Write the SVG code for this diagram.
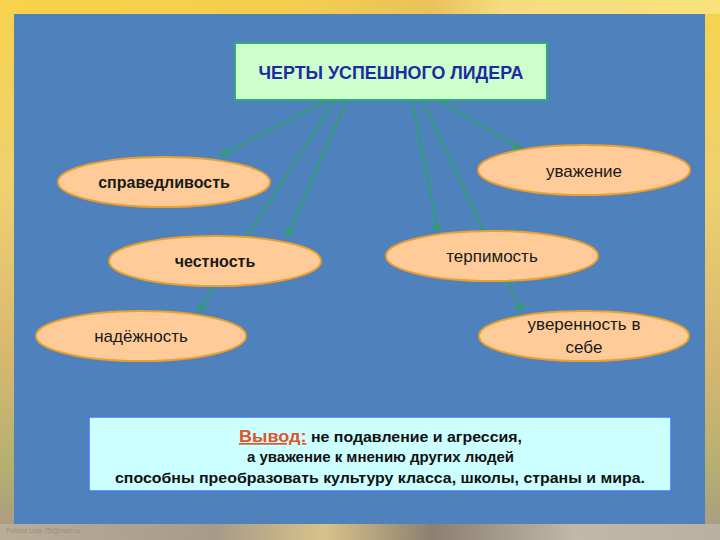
<svg xmlns="http://www.w3.org/2000/svg" width="720" height="540" viewBox="0 0 720 540">
<defs>
<linearGradient id="bgv" x1="0" y1="0" x2="0" y2="1">
<stop offset="0" stop-color="#F6D34C"/>
<stop offset="0.35" stop-color="#EED070"/>
<stop offset="0.65" stop-color="#D9B870"/>
<stop offset="0.85" stop-color="#B8B070"/>
<stop offset="1" stop-color="#A89A85"/>
</linearGradient>
<linearGradient id="topbar" x1="0" y1="0" x2="1" y2="0">
<stop offset="0" stop-color="#F7D24A"/>
<stop offset="0.4" stop-color="#F4CF4E"/>
<stop offset="0.6" stop-color="#E9C25A"/>
<stop offset="0.7" stop-color="#F6DC80"/>
<stop offset="1" stop-color="#FAE27A"/>
</linearGradient>
<linearGradient id="botbar" x1="0" y1="0" x2="1" y2="0">
<stop offset="0" stop-color="#B8AE98"/>
<stop offset="0.3" stop-color="#A89A88"/>
<stop offset="0.45" stop-color="#D8C28A"/>
<stop offset="0.6" stop-color="#8C8070"/>
<stop offset="0.8" stop-color="#C0B8A8"/>
<stop offset="1" stop-color="#B8B0A0"/>
</linearGradient>
<marker id="ah" viewBox="0 0 10 10" refX="9" refY="5" markerWidth="4.5" markerHeight="4.5" orient="auto">
<path d="M0,0 L10,5 L0,10 z" fill="#2E9E72"/>
</marker>
<style>
.ell{fill:#FFCC99;stroke:#E8A030;stroke-width:2}
.lbl{font-family:"Liberation Sans",Arial,sans-serif;font-size:17px;fill:#1A1A1A;text-anchor:middle}
.b{font-weight:bold;font-size:16px}
.con{stroke:#2E9E72;stroke-width:2;fill:none}
.arr{marker-end:url(#ah)}
</style>
</defs>
<rect x="0" y="0" width="720" height="540" fill="url(#bgv)"/>
<rect x="0" y="0" width="720" height="14" fill="url(#topbar)"/>
<rect x="0" y="524" width="720" height="16" fill="url(#botbar)"/>
<rect x="14" y="14" width="691" height="510" fill="#4F81BD"/>
<text x="6" y="533" font-family="Liberation Sans,Arial,sans-serif" font-size="7" fill="#9A9080">Fokina Lida 75@mail.ru</text>

<g id="connectors">
<line class="con arr" x1="328" y1="100" x2="220" y2="156"/>
<line class="con arr" x1="335" y1="100" x2="198" y2="312"/>
<line class="con arr" x1="347" y1="100" x2="287" y2="237"/>
<line class="con arr" x1="412" y1="100" x2="438" y2="232"/>
<line class="con arr" x1="422" y1="100" x2="522" y2="312"/>
<line class="con arr" x1="438" y1="100" x2="521" y2="149"/>
</g>

<g id="title">
<rect x="235" y="43" width="312" height="57" fill="#CCFFCC" stroke="#33AA77" stroke-width="2"/>
<text x="391" y="79" font-family="Liberation Sans,Arial,sans-serif" font-size="18" font-weight="bold" fill="#1F2AA0" text-anchor="middle" textLength="265" lengthAdjust="spacingAndGlyphs">ЧЕРТЫ УСПЕШНОГО ЛИДЕРА</text>
</g>

<g id="spravedlivost">
<ellipse class="ell" cx="164" cy="182" rx="106" ry="25"/>
<text class="lbl b" x="164" y="188">справедливость</text>
</g>
<g id="chestnost">
<ellipse class="ell" cx="215" cy="261" rx="106" ry="25"/>
<text class="lbl b" x="215" y="267">честность</text>
</g>
<g id="nadezhnost">
<ellipse class="ell" cx="141" cy="336" rx="105" ry="25"/>
<text class="lbl" x="141" y="342">надёжность</text>
</g>
<g id="uvazhenie">
<ellipse class="ell" cx="584" cy="170" rx="106" ry="25"/>
<text class="lbl" x="584" y="177">уважение</text>
</g>
<g id="terpimost">
<ellipse class="ell" cx="492" cy="256" rx="106" ry="25"/>
<text class="lbl" x="492" y="262">терпимость</text>
</g>
<g id="uverennost">
<ellipse class="ell" cx="584" cy="336" rx="105" ry="25"/>
<text class="lbl" x="584" y="330">уверенность в</text>
<text class="lbl" x="584" y="353">себе</text>
</g>

<g id="vyvod">
<rect x="89" y="417" width="582" height="74" fill="#CCFFFF" stroke="#4477EE" stroke-width="1.5"/>
<g font-family="Liberation Sans,Arial,sans-serif" font-weight="bold" font-size="15" fill="#111" text-anchor="middle">
<text x="380.5" y="442" textLength="283" lengthAdjust="spacingAndGlyphs"><tspan fill="#E0552A" font-size="17" text-decoration="underline">Вывод:</tspan> не подавление и агрессия,</text>
<text x="380.5" y="462" textLength="267" lengthAdjust="spacingAndGlyphs">а уважение к мнению других людей</text>
<text x="380" y="483" textLength="530" lengthAdjust="spacingAndGlyphs">способны преобразовать культуру класса, школы, страны и мира.</text>
</g>
</g>
</svg>
